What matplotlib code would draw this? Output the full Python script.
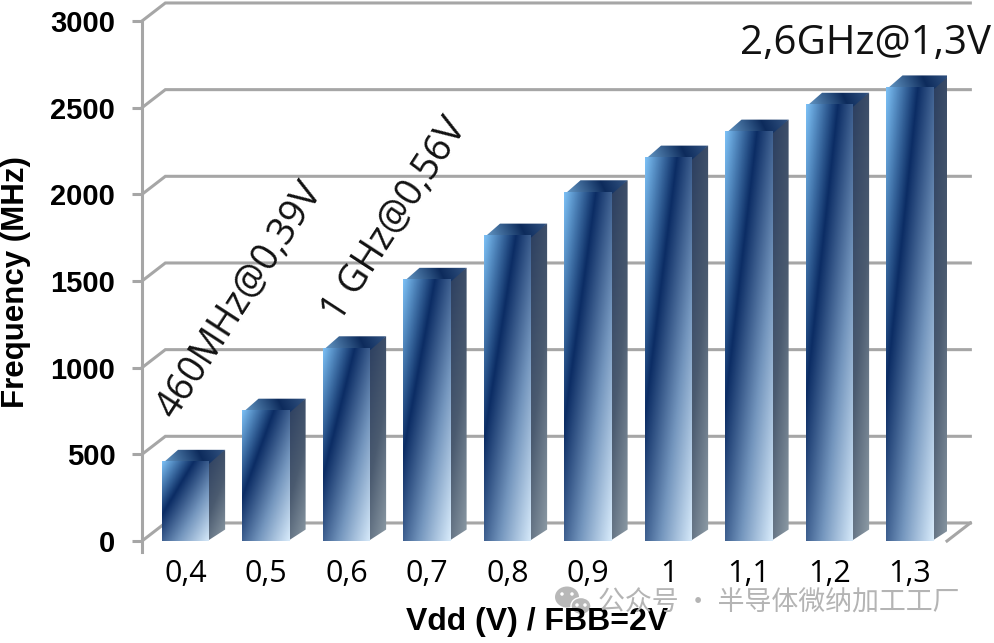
import numpy as np
import matplotlib
matplotlib.use("Agg")
import matplotlib.pyplot as plt
from matplotlib.colors import LinearSegmentedColormap
from matplotlib.patches import Polygon, Ellipse

W, H = 994, 643

categories = ["0,4", "0,5", "0,6", "0,7", "0,8", "0,9", "1", "1,1", "1,2", "1,3"]
freqs = [460, 755, 1115, 1510, 1765, 2015, 2215, 2365, 2520, 2620]
yticks = [0, 500, 1000, 1500, 2000, 2500, 3000]

front_cmap = LinearSegmentedColormap.from_list(
    "front", ["#7cc0f5", "#0b2c64", "#7395bd", "#d8ebfb"])
side_cmap = LinearSegmentedColormap.from_list("side", ["#2c3f60", "#4b5b70", "#909ea8"])
top_cmap = LinearSegmentedColormap.from_list("top", ["#5a8cba", "#0d2b5c", "#3d5f8c"])

grey = "#a6a6a6"
bar_w = 0.585
bar_dx, bar_dy = 0.2, 66
wall_dx, wall_dy = 0.29, 104


def px_axes(x0, y0, x1, y1):
    return [x0 / W, 1 - y1 / H, (x1 - x0) / W, (y1 - y0) / H]


def gradient_face(ax, poly, extent, cmap, weights, z):
    # gradient drawn in a unit square and stretched to the face, clipped to its shape
    u, v = np.meshgrid(np.linspace(0, 1, 80), np.linspace(0, 1, 160))
    t = weights[0] * u + weights[1] * v
    im = ax.imshow(t, extent=extent, cmap=cmap, vmin=0, vmax=1, aspect="auto",
                   origin="upper", zorder=z, interpolation="bilinear")
    patch = Polygon(poly, closed=True, transform=ax.transData, fc="none", ec="none")
    ax.add_patch(patch)
    im.set_clip_path(patch)


fig = plt.figure(figsize=(W / 100, H / 100), dpi=100)
ax = fig.add_axes(px_axes(142, 21, 947, 541))
ax.patch.set_visible(False)
for s in ax.spines.values():
    s.set_visible(False)

# walls and floor
xl, xr = -0.54, 9.46
for v in yticks:
    ax.plot([xl, xl + wall_dx, xr + wall_dx], [v, v + wall_dy, v + wall_dy], color=grey,
            lw=2.2, clip_on=False, zorder=1, solid_joinstyle="miter")
ax.plot([xr, xr + wall_dx], [0, wall_dy], color=grey, lw=2.2, clip_on=False, zorder=1)
ax.plot([xl, xl], [-63, 3000], color=grey, lw=2.2, clip_on=False, zorder=1)

# bars
for i, f in enumerate(freqs):
    x0, x1 = i - bar_w / 2, i + bar_w / 2
    z = 3 + i
    front = [(x0, 0), (x1, 0), (x1, f), (x0, f)]
    side = [(x1 - 0.02, 0), (x1 + bar_dx, bar_dy), (x1 + bar_dx, f + bar_dy), (x1 - 0.02, f)]
    # top face runs a little under the front one so no white seam shows
    top = [(x0, f - 15), (x1, f - 15), (x1 + bar_dx, f + bar_dy), (x0 + bar_dx, f + bar_dy)]
    gradient_face(ax, side, (x1, x1 + bar_dx, 0, f + bar_dy), side_cmap, (0.3, 0.7), z)
    gradient_face(ax, top, (x0, x1 + bar_dx, f - 15, f + bar_dy), top_cmap, (0.9, -0.1), z)
    gradient_face(ax, front, (x0, x1, 0, f), front_cmap, (0.5, 0.5), z)
ax.set_xlim(xl, xr)
ax.set_ylim(0, 3000)

# axis labels
ax.set_xticks(range(len(categories)))
ax.set_xticklabels(categories, fontsize=22, family="Open Sans")
ax.set_yticks(yticks)
ax.set_yticklabels([str(v) for v in yticks], fontsize=21, fontweight="bold",
                   family="Liberation Sans")
ax.tick_params(axis="x", length=0, pad=13)
ax.tick_params(axis="y", length=7.2, width=2.2, color=grey, pad=12)

fig.text(16 / W, 1 - 282 / H, "Frequency (MHz)", rotation=90, fontsize=22.5,
         fontweight="bold", family="Liberation Sans", ha="center", va="center")
fig.text(537 / W, 1 - 622 / H, "Vdd (V) / FBB=2V", fontsize=23, fontweight="bold",
         family="Liberation Sans", ha="center", va="center")

# annotations
fig.text(240 / W, 1 - 300 / H, "460MHz@0,39V", rotation=57, fontsize=27,
         family="Open Sans", ha="center", va="center", color="#111111")
fig.text(395 / W, 1 - 220 / H, "1 GHz@0,56V", rotation=57, fontsize=27,
         family="Open Sans", ha="center", va="center", color="#111111")
fig.text(865 / W, 1 - 44 / H, "2,6GHz@1,3V", fontsize=29, family="Open Sans",
         ha="center", va="center", color="#111111")

# watermark
fig.text(598 / W, 1 - 603 / H, "公众号 · 半导体微纳加工工厂", fontsize=19.4,
         family=["Noto Sans CJK SC", "DejaVu Sans"], color="#b4b4b4", ha="left", va="center")
ov = fig.add_axes([0, 0, 1, 1])
ov.set_xlim(0, W)
ov.set_ylim(H, 0)
ov.axis("off")
ov.add_patch(Ellipse((567, 597), 24, 21, fc="#b8b8b8", ec="none"))
ov.add_patch(Ellipse((581, 606), 20, 17, fc="#b8b8b8", ec="white", lw=1))
for ex, ey in [(562, 594), (572, 594), (577, 605), (585, 605)]:
    ov.add_patch(Ellipse((ex, ey), 3.5, 3.5, fc="white", ec="none"))

fig.savefig("out.png", dpi=100)
